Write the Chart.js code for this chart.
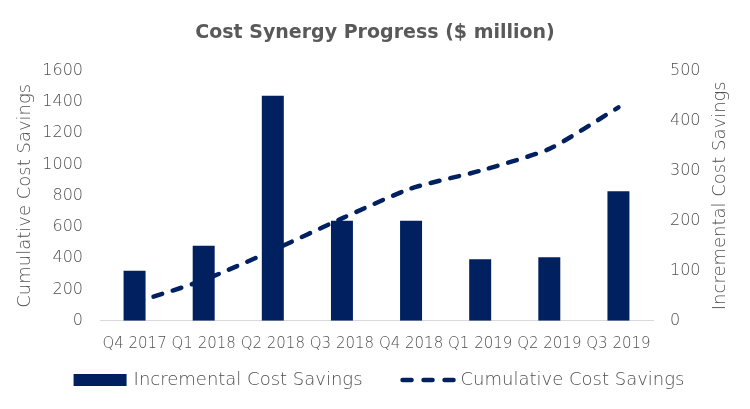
<!DOCTYPE html>
<html>
<head>
<meta charset="utf-8">
<script src="https://cdn.jsdelivr.net/npm/chart.js@4.4.1/dist/chart.umd.min.js"></script>
<style>
  html, body { margin: 0; padding: 0; background: #ffffff; }
  #wrap { width: 750px; height: 409px; }
</style>
</head>
<body>
<div id="wrap"><canvas id="c" width="750" height="409"></canvas></div>
<script>
const categories = ["Q4 2017", "Q1 2018", "Q2 2018", "Q3 2018", "Q4 2018", "Q1 2019", "Q2 2019", "Q3 2019"];
const incrementalSavings = [100, 150, 450, 200, 200, 123, 127, 259];
const cumulativeSavings = [115, 260, 450, 655, 847, 960, 1100, 1366];
const leftTicks = [0, 200, 400, 600, 800, 1000, 1200, 1400, 1600];
const rightTicks = [0, 100, 200, 300, 400, 500];

const NAVY = "#002060";
const GREY = "#595959";
const TEXT_GREY = "#4f4f4f";
const FONT = "'DejaVu Sans', sans-serif";
const WEIGHT = "200";
const TEXT_FONT = WEIGHT + " 18px " + FONT;

const rightTitlePlugin = {
  id: "rightTitle",
  afterDraw(chart) {
    const ctx = chart.ctx;
    const area = chart.chartArea;
    ctx.save();
    ctx.translate(720, (area.top + area.bottom) / 2);
    ctx.rotate(-Math.PI / 2);
    ctx.font = TEXT_FONT;
    ctx.fillStyle = TEXT_GREY;
    ctx.textAlign = "center";
    ctx.textBaseline = "middle";
    ctx.fillText("Incremental Cost Savings", 0, 0);
    ctx.restore();
  }
};

const legendPlugin = {
  id: "customLegend",
  afterDraw(chart) {
    const ctx = chart.ctx;
    const ds = chart.data.datasets;
    const y = 380;
    const sampleW = 53, textGap = 7, itemGap = 38;
    ctx.save();
    ctx.font = TEXT_FONT;
    const w1 = ctx.measureText(ds[0].label).width;
    const w2 = ctx.measureText(ds[1].label).width;
    const total = sampleW + textGap + w1 + itemGap + sampleW + textGap + w2;
    let x = 379 - total / 2;
    // bar sample
    ctx.fillStyle = NAVY;
    ctx.fillRect(x, y - 6, sampleW, 12);
    x += sampleW + textGap;
    ctx.fillStyle = TEXT_GREY;
    ctx.textAlign = "left";
    ctx.textBaseline = "middle";
    ctx.fillText(ds[0].label, x, y);
    x += w1 + itemGap;
    // line sample
    ctx.strokeStyle = NAVY;
    ctx.lineWidth = 4.5;
    ctx.lineCap = "round";
    ctx.setLineDash([9, 12]);
    ctx.beginPath();
    ctx.moveTo(x + 2, y);
    ctx.lineTo(x + sampleW, y);
    ctx.stroke();
    ctx.setLineDash([]);
    x += sampleW + textGap;
    ctx.fillStyle = TEXT_GREY;
    ctx.fillText(ds[1].label, x, y);
    ctx.restore();
  }
};

new Chart(document.getElementById("c"), {
  data: {
    labels: categories,
    datasets: [
      {
        type: "bar",
        label: "Incremental Cost Savings",
        data: incrementalSavings,
        backgroundColor: NAVY,
        borderWidth: 0,
        yAxisID: "y1",
        barPercentage: 0.318,
        categoryPercentage: 1.0,
        order: 2
      },
      {
        type: "line",
        label: "Cumulative Cost Savings",
        data: cumulativeSavings,
        borderColor: NAVY,
        backgroundColor: NAVY,
        borderWidth: 4.5,
        borderDash: [9, 11],
        borderCapStyle: "round",
        pointRadius: 0,
        tension: 0.2,
        fill: false,
        yAxisID: "y",
        order: 1
      }
    ]
  },
  options: {
    responsive: false,
    animation: false,
    devicePixelRatio: 1,
    layout: { padding: { left: 0, right: 0, top: 0, bottom: 53.3 } },
    plugins: {
      title: {
        display: true,
        text: "Cost Synergy Progress ($ million)",
        color: GREY,
        font: { family: FONT, size: 19, weight: "bold" },
        padding: { top: 22, bottom: 26 }
      },
      legend: { display: false },
      tooltip: { enabled: false }
    },
    scales: {
      x: {
        grid: { display: false, drawTicks: false },
        border: { display: true, color: "#d9d9d9", width: 1 },
        ticks: {
          color: TEXT_GREY,
          font: { family: FONT, size: 15, weight: WEIGHT },
          padding: 14,
          maxRotation: 0,
          autoSkip: false
        },
        afterFit(scale) { scale.height = 35; }
      },
      y: {
        position: "left",
        min: 0,
        max: 1600,
        afterBuildTicks(scale) { scale.ticks = leftTicks.map(v => ({ value: v })); },
        grid: { display: false, drawTicks: false },
        border: { display: false },
        ticks: {
          color: TEXT_GREY,
          font: { family: FONT, size: 16, weight: WEIGHT },
          padding: 17,
          callback: v => String(v)
        },
        title: {
          display: true,
          text: "Cumulative Cost Savings",
          color: TEXT_GREY,
          font: { family: FONT, size: 18, weight: WEIGHT },
          padding: { top: 14.2, bottom: 0 }
        },
        afterFit(scale) { scale.width = 100; }
      },
      y1: {
        position: "right",
        min: 0,
        max: 500,
        afterBuildTicks(scale) { scale.ticks = rightTicks.map(v => ({ value: v })); },
        grid: { display: false, drawTicks: false },
        border: { display: false },
        ticks: {
          color: TEXT_GREY,
          font: { family: FONT, size: 16, weight: WEIGHT },
          padding: 17,
          callback: v => String(v)
        },
        afterFit(scale) { scale.width = 97; }
      }
    }
  },
  plugins: [rightTitlePlugin, legendPlugin]
});
</script>
</body>
</html>
